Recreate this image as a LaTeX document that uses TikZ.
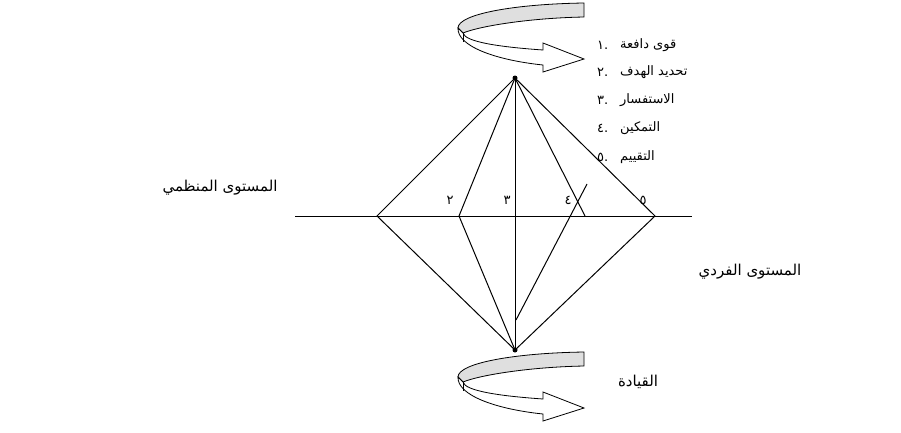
\documentclass[tikz,border=0pt]{standalone}
\usepackage{fontspec}
\newfontfamily\arabicfont[Script=Arabic]{DejaVu Sans}
\TeXXeTstate=1
\usetikzlibrary{positioning}

\begin{document}
\begin{tikzpicture}[x=1pt, y=-1pt,
    seg/.style={draw, line width=1pt},
    arlabel/.style={font=\arabicfont\fontsize{15}{17}\selectfont, inner sep=0pt},
    item/.style={font=\arabicfont\fontsize{13}{15}\selectfont, inner sep=0pt, anchor=west},
    digit/.style={font=\arabicfont\fontsize{13}{15}\selectfont, inner sep=0pt},
    ribbon/.pic={
        % back of the band (grey)
        \filldraw[fill=gray!25, line width=0.8pt] (584,3) .. controls (515,4) and (458,14) .. (458,28)
            -- (463,33) .. controls (480,26) and (530,18) .. (584,17) -- cycle;
        % front of the band with the head
        \filldraw[fill=white, line width=0.8pt] (458,28) .. controls (457,46) and (495,60) .. (543,65)
            -- (543,72) -- (584,59) -- (543,43) -- (543,50)
            .. controls (500,47) and (465,42) .. (463,33) -- cycle;
        \draw[line width=0.8pt] (463,33) -- (463,42);
    }
]
\useasboundingbox (0,0) rectangle (901,432);

% Points of the diamond
\coordinate (top) at (515,78);
\coordinate (bottom) at (515,350);
\coordinate (L) at (377,216);
\coordinate (l) at (459,216);
\coordinate (r) at (585,216);
\coordinate (R) at (655,216);
\coordinate (kink) at (587,184);
\coordinate (foot) at (516,320);
\coordinate (hl) at (295,216);
\coordinate (hr) at (692,216);

% Turning arrows
\pic at (0,0) {ribbon};
\pic at (0,349) {ribbon};

% Lines
\draw[seg] (hl) -- (hr);
\draw[seg] (top) -- (L) -- (bottom);
\draw[seg] (top) -- (l) -- (bottom);
\draw[seg] (top) -- (R) -- (bottom);
\draw[seg] (top) -- (bottom);
\draw[seg] (top) -- (r);
\draw[seg] (kink) -- (foot);
\fill (top) circle (2.5);
\fill (bottom) circle (2.5);

% Numbers on the line
\node[digit] (n2) at (450,200) {٢};
\node[digit] (n3) at (507,200) {٣};
\node[digit] (n4) at (568,200) {٤};
\node[digit] (n5) at (643,200) {٥};

% List
\node[item] (k1) at (597,45) {١\hbox{.}};
\node[item] (k2) at (597,72) {٢\hbox{.}};
\node[item] (k3) at (597,100) {٣\hbox{.}};
\node[item] (k4) at (597,128) {٤\hbox{.}};
\node[item] (k5) at (597,157) {٥\hbox{.}};
\node[item] (i1) at (620,45) {\beginR قوى دافعة\endR};
\node[item] (i2) at (620,72) {\beginR تحديد الهدف\endR};
\node[item] (i3) at (620,100) {\beginR الاستفسار\endR};
\node[item] (i4) at (620,128) {\beginR التمكين\endR};
\node[item] (i5) at (620,157) {\beginR التقييم\endR};

% Levels
\node[arlabel] (org) at (220,188) {\beginR المستوى المنظمي\endR};
\node[arlabel] (ind) at (750,272) {\beginR المستوى الفردي\endR};
\node[arlabel] (lead) at (638,382) {\beginR القيادة\endR};

\end{tikzpicture}
\end{document}
